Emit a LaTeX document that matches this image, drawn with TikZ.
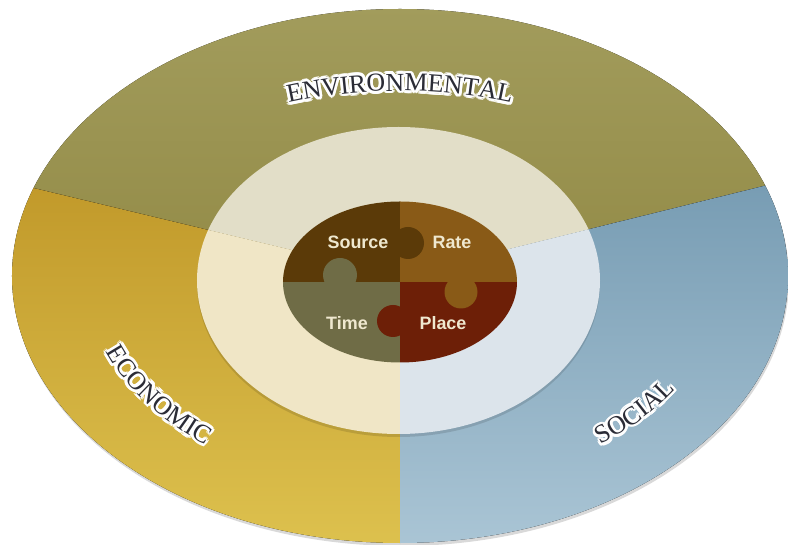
\documentclass[tikz,border=0pt]{standalone}
\usepackage{fontspec}
\setmainfont{Liberation Serif}
\newfontfamily\piecefont{Liberation Sans}
\usetikzlibrary{decorations.text}
\definecolor{envtop}{HTML}{A29C5C}
\definecolor{envbot}{HTML}{938B47}
\definecolor{ecotop}{HTML}{C1992A}
\definecolor{ecobot}{HTML}{DDC14E}
\definecolor{soctop}{HTML}{779CB3}
\definecolor{socbot}{HTML}{AAC5D5}
\definecolor{envring}{HTML}{E2DEC8}
\definecolor{ecoring}{HTML}{F0E6C6}
\definecolor{socring}{HTML}{DCE4EB}
\definecolor{srccol}{HTML}{5B3A08}
\definecolor{ratecol}{HTML}{895A17}
\definecolor{timecol}{HTML}{6F6C46}
\definecolor{placecol}{HTML}{6D1F07}
\definecolor{piecetext}{HTML}{EFE8CF}
\definecolor{labeltext}{HTML}{2B2C36}
\tikzset{
    envsec/.style={top color=envtop, bottom color=envbot},
    ecosec/.style={top color=ecotop, bottom color=ecobot},
    socsec/.style={top color=soctop, bottom color=socbot},
    piece/.style={
        font=\piecefont\bfseries\fontsize{18}{18}\selectfont,
        text=piecetext,
        anchor=base
    }
}
\newcommand\ringfont{\fontsize{26}{26}\selectfont}
\newcommand\ringtext[5]{%
    \foreach \g in {0,30,...,330}
        \path[shift={(\g:2.8)}, opacity=.45, decorate, decoration={text along path, text color=white, text={|\ringfont|#1}, text align=center}]
        (#2:#4 and #5) arc[start angle=#2, end angle=#3, x radius=#4, y radius=#5];
    \foreach \g in {0,30,...,330}
        \path[shift={(\g:1.4)}, decorate, decoration={text along path, text color=white, text={|\ringfont|#1}, text align=center}]
        (#2:#4 and #5) arc[start angle=#2, end angle=#3, x radius=#4, y radius=#5];
    \path[decorate, decoration={text along path, text color=labeltext, text={|\ringfont|#1}, text align=center}]
        (#2:#4 and #5) arc[start angle=#2, end angle=#3, x radius=#4, y radius=#5];
}

\begin{document}
\begin{tikzpicture}[x=1bp, y=1bp]
	\useasboundingbox (-400,-269) rectangle (388,276);
	\coordinate (o) at (0,0);
	\coordinate (l) at (-400,96);
	\coordinate (r) at (390,96.5);
	\fill[black, opacity=.15] (1,-3) ellipse[x radius=388, y radius=267];
	\begin{scope}
		\clip (0,0) ellipse[x radius=388, y radius=267];
		\fill[envsec] (o) -- (l) -- (-400,270) -- (390,270) -- (r) -- cycle;
		\fill[ecosec] (o) -- (l) -- (-400,-270) -- (0,-270) -- cycle;
		\fill[socsec] (o) -- (0,-270) -- (390,-270) -- (r) -- cycle;
	\end{scope}
	\fill[black, opacity=.12] (-1.5,-7.5) ellipse[x radius=201.5, y radius=153.5];
	\begin{scope}
		\clip (-1.5,-4.5) ellipse[x radius=201.5, y radius=153.5];
		\fill[envring] (o) -- (l) -- (-400,270) -- (390,270) -- (r) -- cycle;
		\fill[ecoring] (o) -- (l) -- (-400,-270) -- (0,-270) -- cycle;
		\fill[socring] (o) -- (0,-270) -- (390,-270) -- (r) -- cycle;
	\end{scope}
	\begin{scope}
		\clip (0,-6) ellipse[x radius=117, y radius=80.5];
		\fill[srccol] (-120,-6) rectangle (0,80);
		\fill[ratecol] (0,-6) rectangle (120,80);
		\fill[timecol] (-120,-90) rectangle (0,-6);
		\fill[placecol] (0,-90) rectangle (120,-6);
		\fill[srccol] (8,33) circle[radius=16];
		\fill[timecol] (-60,1) circle[radius=17];
		\fill[ratecol] (61,-16) circle[radius=16.5];
		\fill[placecol] (-7,-45) circle[radius=16];
	\end{scope}
	\node[piece] (src) at (-42,27.5) {Source};
	\node[piece] (rate) at (52,27.5) {Rate};
	\node[piece] (time) at (-53,-53.5) {Time};
	\node[piece] (place) at (43,-53.5) {Place};
	\ringtext{ENVIRONMENTAL}{160}{20}{316}{185}
	\ringtext{ECONOMIC}{190}{240}{314}{215}
	\ringtext{SOCIAL}{295}{345}{324}{215}
\end{tikzpicture}
\end{document}
